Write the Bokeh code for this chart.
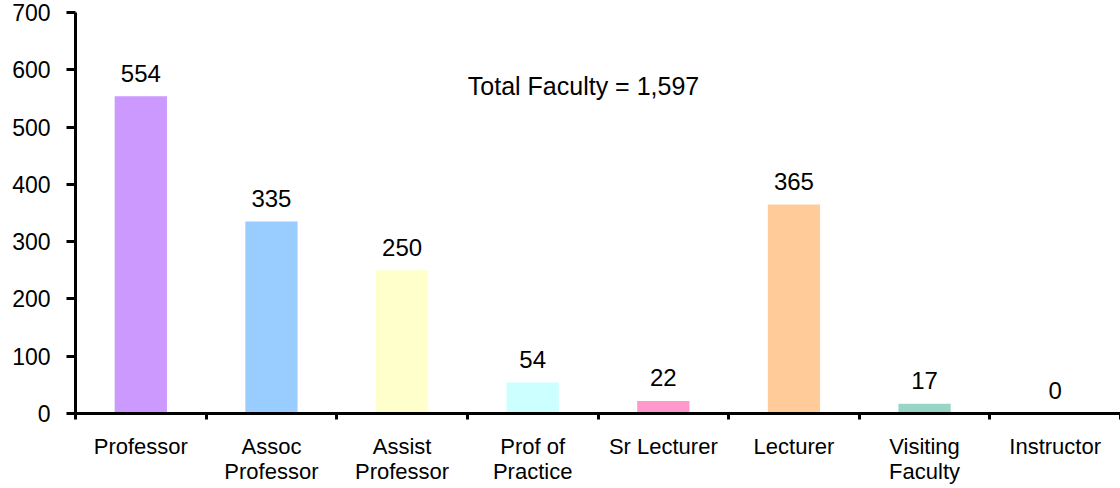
from bokeh.plotting import figure
from bokeh.models import ColumnDataSource, FixedTicker, Label
from bokeh.core.properties import value
from bokeh.embed import file_html
from bokeh.resources import INLINE

categories = ["Professor", "Assoc\nProfessor", "Assist\nProfessor", "Prof of\nPractice",
              "Sr Lecturer", "Lecturer", "Visiting\nFaculty", "Instructor"]
counts = [554, 335, 250, 54, 22, 365, 17, 0]
colors = ["#CC99FF", "#99CCFF", "#FFFFCC", "#CCFFFF", "#FF99CC", "#FFCC99", "#99D5C4", "#FFFFFF"]
y_ticks = [0, 100, 200, 300, 400, 500, 600, 700]
total_text = "Total Faculty = 1,597"

FONT = "Liberation Sans"

xs = [i + 0.5 for i in range(len(categories))]
src = ColumnDataSource(dict(x=xs, top=counts, color=colors,
                            label=[str(c) for c in counts]))

p = figure(width=1120, height=486, x_range=(0, len(categories)), y_range=(0, 700),
           output_backend="svg", toolbar_location=None,
           min_border_left=75, min_border_right=0, min_border_top=12, min_border_bottom=71)
p.outline_line_color = None
p.xgrid.visible = False
p.ygrid.visible = False

p.vbar(x="x", top="top", width=0.4, color="color", line_color=None, source=src)
p.text(x="x", y="top", text="label", source=src, text_align="center",
       text_baseline="alphabetic", y_offset=-23, text_font=value(FONT),
       text_font_size="24px", text_color="black")

p.add_layout(Label(x=3.889, y=572, text=total_text, text_align="center",
                   text_baseline="alphabetic", text_font=FONT, text_font_size="25px",
                   text_color="black"))

xa = p.xaxis[0]
xa.ticker = FixedTicker(ticks=xs, minor_ticks=list(range(len(categories) + 1)))
xa.major_label_overrides = {x: c for x, c in zip(xs, categories)}
xa.major_tick_out = 0
xa.major_tick_in = 0
xa.minor_tick_out = 6
xa.minor_tick_in = 0
xa.minor_tick_line_width = 3
xa.minor_tick_line_color = "black"
xa.axis_line_width = 3
xa.axis_line_color = "black"
xa.major_label_text_font = FONT
xa.major_label_text_font_size = "22px"
xa.major_label_text_line_height = 1.0
xa.major_label_text_color = "black"
xa.major_label_standoff = 14

ya = p.yaxis[0]
ya.ticker = FixedTicker(ticks=y_ticks)
ya.major_tick_out = 9
ya.major_tick_in = 0
ya.minor_tick_out = 0
ya.minor_tick_in = 0
ya.major_tick_line_width = 3
ya.major_tick_line_color = "black"
ya.axis_line_width = 3
ya.axis_line_color = "black"
ya.major_label_text_font = FONT
ya.major_label_text_font_size = "23px"
ya.major_label_text_color = "black"
ya.major_label_standoff = 16

open("out.html", "w").write(file_html(p, INLINE))
